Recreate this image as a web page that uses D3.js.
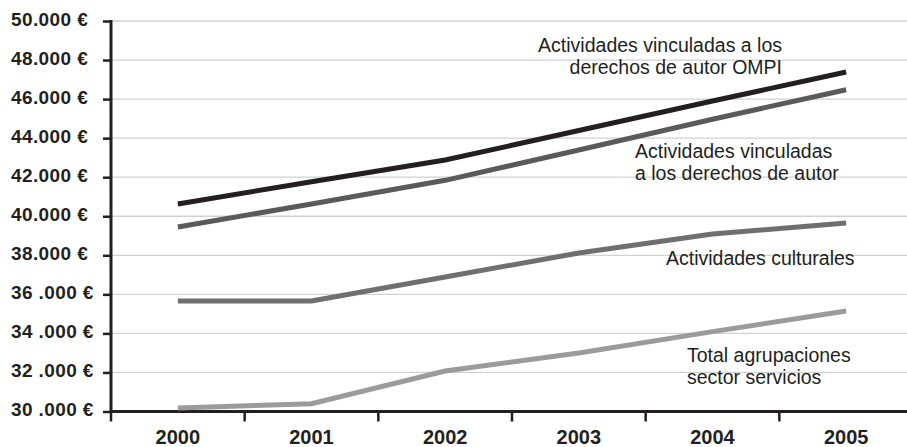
<!DOCTYPE html>
<html>
<head>
<meta charset="utf-8">
<script src="https://cdn.jsdelivr.net/npm/d3@7"></script>
<style>
  body { margin: 0; background: #fff; }
  svg { display: block; }
  text { font-family: "Liberation Sans", Arial, sans-serif; fill: #231f20; }
</style>
</head>
<body>
<div id="chart"></div>
<script>
var years = ["2000", "2001", "2002", "2003", "2004", "2005"];
var yTicks = [30000, 32000, 34000, 36000, 38000, 40000, 42000, 44000, 46000, 48000, 50000];
var yTickLabels = ["30 .000 €", "32 .000 €", "34 .000 €", "36 .000 €", "38.000 €", "40.000 €",
  "42.000 €", "44.000 €", "46.000 €", "48.000 €", "50.000 €"];

var ompi = [40630, 41770, 42880, 44390, 45900, 47390];
var autor = [39450, 40630, 41840, 43390, 44970, 46480];
var culturales = [35660, 35660, 36890, 38120, 39090, 39650];
var servicios = [30180, 30400, 32070, 33000, 34090, 35150];

var seriesNames = [
  ["Actividades vinculadas a los", "derechos de autor OMPI"],
  ["Actividades vinculadas", "a los derechos de autor"],
  ["Actividades culturales"],
  ["Total agrupaciones", "sector servicios"]
];
var seriesValues = [ompi, autor, culturales, servicios];
var seriesColors = ["#231f20", "#5a5a5a", "#6f6f6f", "#9b9b9b"];

var width = 907, height = 447;
var margin = { top: 21, left: 111, bottom: 35.5 };

var svg = d3.select("#chart").append("svg")
  .attr("width", width)
  .attr("height", height);

var x = d3.scaleBand().domain(years).range([margin.left, 913]).padding(0);
var y = d3.scaleLinear().domain([30000, 50000]).range([height - margin.bottom, margin.top]);

// gridlines
svg.append("g").selectAll("line")
  .data(yTicks.slice(1))
  .enter().append("line")
  .attr("x1", margin.left).attr("x2", width)
  .attr("y1", function (d) { return y(d); })
  .attr("y2", function (d) { return y(d); })
  .attr("stroke", "#d2d2d2")
  .attr("stroke-width", 1.3);

// y axis
var yAxis = d3.axisLeft(y)
  .tickValues(yTicks)
  .tickSize(8)
  .tickFormat(function (d, i) { return yTickLabels[i]; });

var gy = svg.append("g")
  .attr("transform", "translate(" + margin.left + ",0)")
  .call(yAxis);
gy.select(".domain").remove();
gy.selectAll(".tick line").attr("stroke", "#231f20").attr("stroke-width", 2.5);
gy.selectAll(".tick text")
  .attr("x", -100)
  .attr("dy", "0.22em")
  .attr("text-anchor", "start")
  .style("font-size", "19px")
  .style("font-weight", "bold")
  .style("letter-spacing", "0.4px")
  .style("font-family", "'Liberation Sans', Arial, sans-serif");
gy.append("line")
  .attr("x1", 0).attr("x2", 0)
  .attr("y1", y(50000) - 1).attr("y2", y(30000) + 1.5)
  .attr("stroke", "#231f20").attr("stroke-width", 3);

// x axis
var gx = svg.append("g")
  .attr("transform", "translate(0," + y(30000) + ")");
gx.append("line")
  .attr("x1", margin.left).attr("x2", width)
  .attr("stroke", "#231f20").attr("stroke-width", 3);
gx.selectAll(".xtick")
  .data(years)
  .enter().append("line")
  .attr("class", "xtick")
  .attr("x1", function (d) { return x(d); })
  .attr("x2", function (d) { return x(d); })
  .attr("y1", 0).attr("y2", 10)
  .attr("stroke", "#231f20").attr("stroke-width", 2.5);
gx.selectAll(".xlabel")
  .data(years)
  .enter().append("text")
  .attr("class", "xlabel")
  .attr("x", function (d) { return x(d) + x.bandwidth() / 2; })
  .attr("y", 32)
  .attr("text-anchor", "middle")
  .style("font-size", "20px")
  .style("font-weight", "bold")
  .text(function (d) { return d; });

// lines
var line = d3.line()
  .x(function (d, i) { return x(years[i]) + x.bandwidth() / 2; })
  .y(function (d) { return y(d); });

svg.append("g").selectAll("path")
  .data(seriesValues)
  .enter().append("path")
  .attr("d", function (d) { return line(d); })
  .attr("fill", "none")
  .attr("stroke", function (d, i) { return seriesColors[i]; })
  .attr("stroke-width", 5);

// series labels
var labelPos = [
  { x: 782, y: 52, anchor: "end" },
  { x: 635, y: 158, anchor: "start" },
  { x: 666, y: 265, anchor: "start" },
  { x: 687, y: 362, anchor: "start" }
];
var lab = svg.append("g").selectAll("text")
  .data(seriesNames)
  .enter().append("text")
  .attr("x", function (d, i) { return labelPos[i].x; })
  .attr("y", function (d, i) { return labelPos[i].y; })
  .attr("text-anchor", function (d, i) { return labelPos[i].anchor; })
  .style("font-size", "19.5px");
lab.selectAll("tspan")
  .data(function (d) { return d; })
  .enter().append("tspan")
  .attr("x", function () { return d3.select(this.parentNode).attr("x"); })
  .attr("dy", function (d, i) { return i == 0 ? 0 : 22; })
  .text(function (d) { return d; });
</script>
</body>
</html>
